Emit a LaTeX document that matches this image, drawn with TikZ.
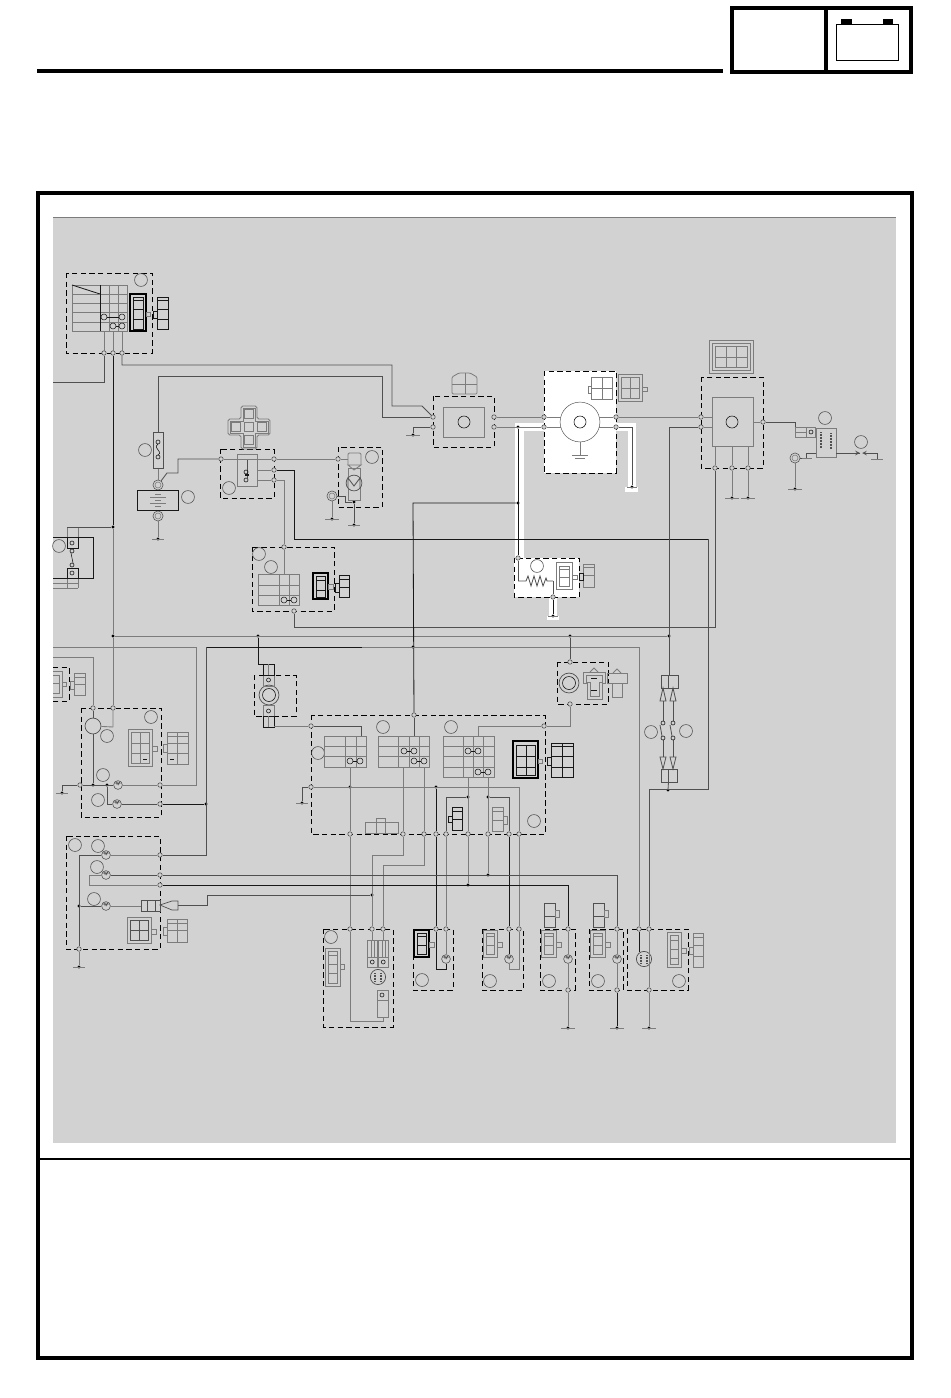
\documentclass[tikz,border=0pt]{standalone}
\usetikzlibrary{
    calc,
    positioning
}
\definecolor{panel}{HTML}{D2D2D2}
\definecolor{wiregray}{HTML}{7C7C7C}
\definecolor{wiremid}{HTML}{505050}
\definecolor{wiredark}{HTML}{181818}
\tikzset{
    wire/.style={draw=wiregray, line width=.75pt},
    wirem/.style={draw=wiremid, line width=.7pt},
    wired/.style={draw=wiredark, line width=.7pt},
    halo/.style={draw=white, line width=7pt, miter limit=10},
    part/.style={draw=wiregray, line width=.7pt},
    partd/.style={draw=wiredark, line width=.7pt},
    dashbox/.style={draw=black, line width=.8pt, dash pattern=on 4.6pt off 2.8pt},
    plugg/.style={draw=wiregray, line width=.8pt},
    plugk/.style={draw=black, line width=.9pt},
    term/.style={circle, draw=wiremid, fill=panel, line width=.5pt, inner sep=0pt, minimum size=3.8pt},
    junct/.style={circle, fill=black, inner sep=0pt, minimum size=2.6pt},
    callout/.style={circle, draw=wiremid, line width=.5pt, inner sep=0pt, minimum size=11pt},
    lug/.style={circle, draw=wiremid, line width=.5pt, inner sep=0pt, minimum size=8.6pt},
    bulb/.style={circle, draw=wiremid, fill=panel, line width=.5pt, inner sep=0pt, minimum size=7.5pt,
        path picture={\draw[wiremid, line width=.5pt] ([shift={(-2.2pt,1.4pt)}]path picture bounding box.center) -- ++(.7pt,1pt) -- ++(.7pt,-2pt) -- ++(.7pt,2pt) -- ++(.7pt,-2pt) -- ++(.7pt,2pt) -- ++(.7pt,-1pt);}},
    coilturn/.style={draw=wiremid, line width=1.3pt, dash pattern=on .7pt off .6pt},
    pump/.style={circle, draw=wiremid, line width=.6pt, inner sep=0pt, minimum size=13.5pt},
    box/.style={rectangle, draw=wiremid, line width=.7pt, inner sep=0pt}
}
% grid of cells: x1 y1 x2 y2, vertical lines, horizontal lines
\newcommand{\cellgrid}[7][part]{
    \draw[#1] (#2,#3) rectangle (#4,#5);
    \foreach \vx in {#6} \draw[#1] (\vx,#3) -- (\vx,#5);
    \foreach \hy in {#7} \draw[#1] (#2,\hy) -- (#4,\hy);
}
\newcommand{\contacts}[3]{
    \draw[partd, line width=.45pt] (#1,#3) circle[radius=3] (#2,#3) circle[radius=3];
    \draw[partd, line width=.45pt] ({#1+3},#3) -- ({#2-3},#3);
}
\begin{document}
\begin{tikzpicture}[x=.3mm, y=-.3mm]
    \useasboundingbox (0,0) rectangle (950,1398);
    % page frame
    \fill[panel] (53,217) rectangle (896,1143);
    \draw[wiregray, line width=.4pt] (53,217) -- (896,217);
    \draw[black, line width=2.6pt] (38,193) rectangle (912,1358);
    \draw[black, line width=2.2pt] (38,1159) -- (912,1159);
    \draw[black, line width=2.6pt] (37,71) -- (723,71);
    \draw[black, line width=2.6pt] (732,8) rectangle (911,72);
    \draw[black, line width=2.6pt] (826,8) -- (826,72);
    \draw[black, line width=.7pt] (836,24) rectangle (898,60);
    \fill[black] (841,19) rectangle (852,24);
    \fill[black] (883,19) rectangle (893,24);

    % white areas
    \fill[white] (544,371) rectangle (616,473);
    \fill[white] (514,558) rectangle (579,597);
    \draw[halo] (544,427) -| (519.5,558);
    \draw[halo] (616,427) -| (632,490);
    \draw[halo] (553,597) -- (553,619);
    \fill[white] (625,487) rectangle (638,492);
    \fill[white] (547,616) rectangle (559,620);

    % dashed groups
    \draw[dashbox] (66,273) rectangle (152,353);
    \draw[dashbox] (220,449) rectangle (274,498);
    \draw[dashbox] (338,447) rectangle (382,507);
    \draw[dashbox] (252,547) rectangle (334,611);
    \draw[dashbox] (433,396) rectangle (494,447);
    \draw[dashbox] (544,371) rectangle (616,473);
    \draw[dashbox] (701,377) rectangle (763,468);
    \draw[dashbox] (514,558) rectangle (579,597);
    \draw[dashbox] (53,667) -- (69,667) -- (69,701) -- (53,701);
    \draw[dashbox] (81,708) rectangle (161,817);
    \draw[dashbox] (66,836) rectangle (160,949);
    \draw[dashbox] (254,675) rectangle (296,716);
    \draw[dashbox] (311,715) rectangle (545,834);
    \draw[dashbox] (557,662) rectangle (608,704);
    \draw[dashbox] (323,929) rectangle (393,1027);
    \draw[dashbox] (413,929) rectangle (453,990);
    \draw[dashbox] (482,929) rectangle (523,990);
    \draw[dashbox] (540,929) rectangle (575,990);
    \draw[dashbox] (589,929) rectangle (623,990);
    \draw[dashbox] (627,929) rectangle (688,990);

    % terminals, dots and grounds
    \foreach \n/\x/\y in {mainL/104/353, mainM/113/353, mainR/122/353,
        rlyA/221/459, rlyB/274/459, rlyC/274/470, rlyD/274/480, startA/338/459,
        cutA/284/547, cutB/294/611, rectA/433/417, rectB/433/427, rectC/494/417, rectD/494/427,
        flashA/544/417, flashB/544/427, flashC/616/417, flashD/616/427,
        cdiA/701/417, cdiB/701/427, cdiC/763/422, cdiD/715/468, cdiE/732/468, cdiF/748/468,
        fanA/518/558, fanB/553/597, hornA/570/662, hornB/570/704,
        meterA/311/726, meterB/414/715, meterC/544/726, meterD/311/787,
        pinA/350/834, pinB/403/834, pinC/424/834, pinD/436/834, pinE/446/834,
        pinF/468/834, pinG/488/834, pinH/509/834, pinI/519/834,
        rearA/93/708, rearB/113/708, rearC/80/785, rearD/160/785, rearE/160/804,
        headA/160/855, headB/160/875, headC/160/885, headD/79/949,
        lowA/350/929, lowB/372/929, lowC/383/929, lowD/436/929, lowE/446/929,
        lowF/509/929, lowG/519/929, lowH/568/929, lowI/617/929, lowJ/639/929, lowK/649/929,
        baseH/568/990, baseI/617/990, baseK/649/990}
        \node[term] (\n) at (\x,\y) {};
    \foreach \n/\x/\y in {dotA/113/527, dotB/113/636, dotC/258/636, dotD/413/647, dotE/570/636,
        dotF/669/636, dotG/518/427, dotH/518/503, dotI/668/790, dotJ/350/787, dotK/436/787,
        dotL/468/797, dotM/488/797, dotN/206/804, dotO/107/785, dotP/93/785, dotQ/79/906,
        dotR/372/895, dotS/468/885, dotT/488/875, dotU/354/502}
        \node[junct] (\n) at (\x,\y) {};
    \foreach \n/\x/\y/\w in {gndA/158/539/6, gndB/332/519/7, gndC/354/525/6, gndD/413/435/7, gndE/732/498/7,
        gndF/748/498/7, gndG/795/489/7, gndH/62/793/6, gndI/302/803/6, gndJ/79/967/6,
        gndK/568/1028/7, gndL/617/1028/7, gndM/649/1028/7, gndN/632/487/5, gndO/553/616/5} {
        \node[junct] (\n) at (\x,\y) {};
        \draw[wire] ($(\n)+(-\w,0)$) -- ($(\n)+(\w,0)$);
    }
    % round labels, left empty
    \foreach \x/\y [count=\i] in {141/280, 145/450, 188/497, 229/488, 259/554, 271/567, 372/457,
        537/566, 825/418, 861/442, 59/546, 318/753, 383/727, 451/727, 534/821, 651/732, 686/731,
        151/717, 107/736, 103/775, 98/800, 75/845, 98/846, 97/867, 94/899, 331/937, 422/980,
        490/981, 549/981, 598/981, 679/981}
        \node[callout] (mark\i) at (\x,\y) {};

    % main switch
    \draw[part] (72,285) rectangle (100,331);
    \draw[partd] (72,285) -- (100,294);
    \foreach \hy in {294, 303, 312, 322} \draw[part] (72,\hy) -- (100,\hy);
    \cellgrid{100}{285}{127}{331}{109,118}{294,303,312,322}
    \draw[partd] (100,285) -- (100,331);
    \contacts{104}{122}{317}
    \contacts{113}{122}{326}
    \foreach \x in {104,113,122} \draw[part] (\x,331) -- (\x,351);
    \draw[plugk] (130,294) rectangle (146,331);
    \cellgrid[partd]{133}{297}{143}{329}{133}{300,309,319}
    \draw[part] (146,312) rectangle (150,316);
    \cellgrid[partd]{157}{297}{168}{329}{157}{300,309,319}
    \draw[partd] (153,311) rectangle (157,318);

    % fuse and battery
    \node[box, draw=wiremid, minimum width=8.5pt, minimum height=31pt] (fuse) at (158,450.5) {};
    \draw[partd, line width=.5pt] (158,442) circle[radius=2] (158,457) circle[radius=2];
    \draw[partd, line width=.5pt] (158,444) .. controls (152,449) and (164,451) .. (158,455);
    \node[lug] (battP) at (158,485) {};
    \node[lug] (battN) at (158,516) {};
    \draw[part, line width=.5pt] (158,485) circle[radius=3] (158,516) circle[radius=3];
    \node[box, draw=wiredark, minimum width=35pt, minimum height=17pt] (batt) at (157.5,500) {};
    \foreach \y/\w in {494/3, 497/8, 500/3, 503/8, 506/3} \draw[part] ({158-\w},\y) -- ({158+\w},\y);

    % cross connector and relay
    \draw[part, rounded corners=1.5pt] (241,406) -- (257,406) -- (257,419) -- (270,419) -- (270,435) -- (257,435) -- (257,449) -- (241,449) -- (241,435) -- (228,435) -- (228,419) -- (241,419) -- cycle;
    \draw[part, line width=.4pt] (243,408) -- (255,408) -- (255,421) -- (268,421) -- (268,433) -- (255,433) -- (255,447) -- (243,447) -- (243,433) -- (230,433) -- (230,421) -- (243,421) -- cycle;
    \foreach \x/\y in {249/414, 236/427, 249/427, 262/427, 249/440} \draw[part] ({\x-4.5},{\y-4.5}) rectangle ({\x+4.5},{\y+4.5});
    \draw[part] (237,454) rectangle (257,486);
    \draw[wirem] (247,459) -- (247,478);
    \draw[partd, line width=.5pt] (246,472) circle[radius=2] (246,480) circle[radius=2];
    \fill[wiredark] (245,474) rectangle (249,476);

    % starter motor
    \draw[part, rounded corners=1pt] (348,465) -- (348,453) -- (361,453) -- (361,465);
    \draw[part] (348,465) -- (354,470) -- (361,465) -- cycle;
    \draw[part] (348,468) rectangle (360,500);
    \node[pump, fill=panel] (motor) at (354,483) {};
    \draw[wirem] (348,488) -- (348,478) -- (354,486) -- (360,478) -- (360,488);
    \node[lug] (startLug) at (332,496) {};
    \draw[part, line width=.5pt] (332,496) circle[radius=3];

    % cut-off relay
    \cellgrid{258}{574}{299}{605}{279,289}{585,595}
    \contacts{284}{294}{600}
    \draw[plugk] (313,573) rectangle (328,599);
    \cellgrid[partd]{316}{576}{325}{597}{316}{580,590}
    \draw[part] (328,584) rectangle (333,589);
    \cellgrid[partd]{339}{575}{349}{597}{339}{579,587}
    \draw[partd] (335,583) rectangle (339,592);

    % rectifier, flasher, CDI
    \node[box, draw=wiregray, minimum width=35pt, minimum height=25.5pt] (rect) at (463.5,422) {};
    \draw[partd, line width=.5pt] (464,422) circle[radius=6];
    \draw[part, rounded corners=1pt] (452,394) -- (452,377) -- (459,373) -- (470,373) -- (477,377) -- (477,394) -- cycle;
    \draw[part] (465,373) -- (465,394) (452,384) -- (477,384);
    \node[circle, draw=wiremid, fill=white, inner sep=0pt, minimum size=34pt] (alt) at (580,422) {};
    \draw[partd, line width=.5pt] (580,422) circle[radius=6];
    \cellgrid{591}{377}{612}{399}{602}{388}
    \draw[part] (588,386) rectangle (591,393);
    \draw[plugg] (618,374) rectangle (642,401);
    \cellgrid{621}{377}{639}{398}{630}{388}
    \draw[part] (642,387) rectangle (647,391);
    \draw[part] (709,340) rectangle (753,373);
    \draw[part] (712,343) rectangle (750,370);
    \cellgrid{715}{346}{747}{367}{726,736}{357}
    \node[box, draw=wiregray, fill=panel, minimum width=35pt, minimum height=42.5pt] (cdi) at (732.5,422) {};
    \draw[partd, line width=.5pt] (732,422) circle[radius=6];

    % ignition coil
    \draw[part] (795,427) rectangle (806,437);
    \draw[part] (795,432) -- (806,432);
    \draw[part] (806,427) rectangle (815,437);
    \draw[partd, line width=.5pt] (811,432) circle[radius=2];
    \draw[part] (816,428) rectangle (836,457);
    \draw[coilturn] (821,432) -- (821,448);
    \draw[coilturn] (831,433) -- (831,449);
    \node[lug] (coilLug) at (795,458) {};
    \draw[part, line width=.5pt] (795,458) circle[radius=3];
    \node[junct, minimum size=0pt] (sparkL) at (860,453) {};
    \node[junct, minimum size=0pt] (sparkR) at (862,453) {};
    \draw[wirem] (836,453) -- (sparkL);
    \draw[wirem, -stealth] (851,453) -- (sparkL);
    \draw[wirem, -stealth] (872,453) -- (sparkR);

    % fan thing
    \draw[plugg] (556,562) rectangle (572,589);
    \cellgrid{559}{566}{569}{586}{559}{569,577}
    \draw[part] (572,575) rectangle (577,579);
    \cellgrid{583}{564}{594}{587}{583}{567,575}
    \draw[partd] (579,573) rectangle (583,580);
    \draw[wirem] (518,581) -- (526,581) -- (528,576) -- (531,586) -- (534,576) -- (537,586) -- (540,576) -- (543,586) -- (546,578) -- (547,581) -- (553,581);

    % left module
    \draw[partd] (53,537) -- (93,537) -- (93,578) -- (53,578);
    \draw[part] (67,527) -- (67,537) (78,527) -- (78,537) (67,578) -- (67,588) (78,578) -- (78,588);
    \draw[part] (53,583) -- (78,583) (53,588) -- (78,588);
    \draw[partd] (67,537) rectangle (78,548);
    \draw[partd] (67,568) rectangle (78,578);
    \draw[partd, line width=.5pt] (72,543) circle[radius=2] (72,573) circle[radius=2] (72,551) circle[radius=2] (72,565) circle[radius=2];
    \draw[partd, line width=.5pt] (71,553) -- (73,563);

    % tail connector on the edge
    \draw[plugg] (53,671) -- (62,671) -- (62,697) -- (53,697);
    \draw[part] (53,675) -- (59,675) -- (59,693) -- (53,693);
    \draw[part] (53,683) -- (59,683);
    \draw[part] (62,682) rectangle (66,686);
    \cellgrid{74}{673}{85}{695}{74}{677,684}
    \draw[part] (70,681) rectangle (74,689);

    % rear block
    \node[circle, draw=wiremid, line width=.6pt, inner sep=0pt, minimum size=13.6pt] (rearBig) at (93,726) {};
    \draw[plugg] (128,729) rectangle (152,766);
    \cellgrid{131}{732}{149}{763}{140}{743,753}
    \draw[partd] (143,759) -- (147,759);
    \draw[part] (152,746) rectangle (157,751);
    \cellgrid{167}{732}{188}{764}{177}{736,743,753}
    \draw[partd] (170,759) -- (174,759);
    \draw[part] (163,744) rectangle (167,752);
    \node[bulb] (lampA) at (118,785) {};
    \node[bulb] (lampB) at (117,804) {};

    % head block
    \node[bulb] (lampC) at (106,855) {};
    \node[bulb] (lampD) at (106,875) {};
    \node[bulb] (lampE) at (106,906) {};
    \cellgrid[wiremid]{141}{900}{160}{911}{147,155}{900}
    \draw[wiremid, line width=.6pt] (160,905) -- (172,901) -- (178,901) -- (178,910) -- (172,910) -- cycle;
    \coordinate (plugEnd) at (178,905);
    \draw[plugg] (127,917) rectangle (151,943);
    \cellgrid[wiremid]{130}{920}{148}{940}{139}{930}
    \draw[part] (151,929) rectangle (156,934);
    \cellgrid{167}{919}{187}{942}{177}{923,930}
    \draw[part] (163,927) rectangle (167,935);

    % ignition coil at the top of the row
    \node[circle, draw=wiremid, line width=.6pt, inner sep=0pt, minimum size=17pt] (plugCap) at (269,695) {};
    \draw[partd, line width=.5pt] (269,695) circle[radius=6.5];
    \foreach \y/\c in {675/680, 705/711} {
        \draw[part] (263,\y) rectangle (274,{\y+11});
        \draw[partd, line width=.5pt] (268.5,\c) circle[radius=2];
    }
    \draw[partd] (263,664) rectangle (274,675);
    \draw[part] (268,664) -- (268,675);
    \draw[partd] (263,716) rectangle (274,727);
    \draw[part] (268,716) -- (268,727);

    % meter panel
    \cellgrid{324}{736}{366}{767}{345,356}{746,756}
    \contacts{350}{360}{761}
    \cellgrid{378}{736}{429}{767}{398,409,419}{746,756}
    \contacts{404}{414}{751}
    \contacts{414}{424}{761}
    \cellgrid{443}{736}{494}{777}{463,473,483}{746,756,767}
    \contacts{468}{478}{751}
    \contacts{478}{488}{772}
    \draw[plugk] (513,741) rectangle (538,778);
    \cellgrid[partd]{516}{745}{535}{775}{526}{756,767}
    \draw[part] (538,759) rectangle (542,763);
    \cellgrid[partd]{551}{743}{573}{777}{562}{746,756,767}
    \draw[partd] (547,757) rectangle (551,765);
    \cellgrid[partd]{452}{807}{462}{830}{452}{811,819}
    \draw[partd] (448,816) rectangle (452,822);
    \cellgrid{492}{807}{503}{831}{492}{811,820}
    \draw[part] (503,816) rectangle (507,824);
    \cellgrid{365}{822}{398}{833}{376,385}{822}
    \draw[part] (376,818) rectangle (385,822);

    % horn
    \node[circle, draw=wiremid, line width=.6pt, inner sep=0pt, minimum size=17pt] (hornCap) at (569,683) {};
    \draw[partd, line width=.5pt] (569,683) circle[radius=6.5];
    \draw[plugg] (583,672) -- (605,672) -- (605,683) -- (602,683) -- (602,699) -- (587,699) -- (587,683) -- (583,683) -- cycle;
    \draw[part, line width=.5pt] (586,675) -- (602,675) -- (602,682) -- (599,682) -- (599,696) -- (590,696) -- (590,682) -- (586,682) -- cycle;
    \draw[partd] (591,678) -- (597,678) (591,690) -- (597,690);
    \draw[part] (590,672) -- (594,668) -- (598,672);
    \draw[part] (607,673) rectangle (627,683);
    \draw[part] (612,683) rectangle (622,697);
    \draw[part] (613,673) -- (617,669) -- (621,673);

    % double switch
    \cellgrid[wiremid]{661}{675}{678}{688}{668.5}{675}
    \cellgrid[wiremid]{661}{769}{677}{782}{668.5}{769}
    \foreach \x in {663,673} {
        \draw[wirem] (\x,688) -- ({\x-3},701) -- ({\x+3},701) -- cycle;
        \draw[wirem] (\x,769) -- ({\x-3},757) -- ({\x+3},757) -- cycle;
        \draw[wirem] (\x,701) -- (\x,721);
        \draw[wirem] (\x,740) -- (\x,757);
        \draw[partd, line width=.5pt] (\x,723) circle[radius=2] (\x,738) circle[radius=2];
        \draw[wirem] ({\x-3},725) -- ({\x-1},736);
    }

    % lower row of units
    \draw[plugg] (325,948) rectangle (340,986);
    \cellgrid{328}{951}{337}{983}{328}{955,964,973}
    \draw[part] (340,964) rectangle (344,969);
    \foreach \x in {367,378} {
        \cellgrid{\x}{940}{\x+10.5}{957}{\x+4,\x+7}{940}
        \draw[part] (\x,957) rectangle ({\x+10.5},967);
        \draw[partd, line width=.5pt] ({\x+5.2},962) circle[radius=2];
    }
    \node[pump, minimum size=13pt] (pumpA) at (378,977) {};
    \draw[coilturn] (375,973) -- (375,981);
    \draw[coilturn] (381,973) -- (381,981);
    \draw[part] (377,990) rectangle (388,1000);
    \draw[partd, line width=.5pt] (382,995) circle[radius=2];
    \draw[part] (377,1000) rectangle (388,1017);
    \draw[plugk] (414,930) rectangle (429,957);
    \cellgrid[partd]{417}{933}{426}{954}{417}{936,945}
    \draw[part] (429,942) rectangle (434,947);
    \draw[plugg] (483,930) rectangle (497,957);
    \cellgrid{486}{933}{494}{954}{486}{936,945}
    \draw[part] (497,942) rectangle (502,947);
    \draw[plugg] (541,930) rectangle (556,957);
    \cellgrid{544}{933}{553}{954}{544}{936,945}
    \draw[part] (556,942) rectangle (561,947);
    \draw[plugg] (590,930) rectangle (605,957);
    \cellgrid{593}{933}{602}{954}{593}{936,945}
    \draw[part] (605,942) rectangle (610,947);
    \cellgrid[wiremid]{544}{903}{555}{927}{544}{916}
    \draw[part] (555,910) rectangle (559,917);
    \cellgrid[wiremid]{593}{903}{604}{927}{593}{916}
    \draw[part] (604,910) rectangle (608,917);
    \draw[plugg] (667,932) rectangle (681,967);
    \cellgrid{670}{935}{678}{964}{670}{940,949,958}
    \draw[part] (681,948) rectangle (686,953);
    \cellgrid{693}{933}{703}{967}{693}{937,945,956}
    \draw[part] (689,947) rectangle (693,954);
    \node[bulb] (lampF) at (446,959) {};
    \node[bulb] (lampG) at (509,959) {};
    \node[bulb] (lampH) at (568,959) {};
    \node[bulb] (lampI) at (617,959) {};
    \node[pump, minimum size=13pt] (pumpB) at (644,959) {};
    \draw[coilturn] (641,955) -- (641,963);
    \draw[coilturn] (647,955) -- (647,963);

    % connectors, upper half
    \draw[wirem] (mainL) |- (53,382);
    \draw[wired] (mainM) -- (dotA);
    \draw[wire] (dotA) -- (dotB);
    \draw[wire] (dotB) -- (dotF);
    \draw[wirem] (dotA) -- (67,527);
    \draw[wirem] (mainR) |- (392,365) -- (392,406) -- (422,406) -- (rectA);
    \draw[wirem] (fuse.north) |- (382,376) -- (382,417) -- (rectA);
    \draw[wire] (fuse.south) -- (battP);
    \draw[wirem] (battP) -- (167,473) -- (178,473) -- (178,459) -- (rlyA);
    \draw[wire] (battN) -- (gndA);
    \draw[wire] (rlyA) -- (rlyB);
    \draw[wire] (rlyB) -- (startA);
    \draw[wire] (startA) -- (348,459);
    \draw[wire] (rlyC) -- (257,470);
    \draw[wire] (rlyD) -- (257,480);
    \draw[wired] (rlyC) -- (294,470) -- (294,539) -- (708,539);
    \draw[wirem] (708,539) -- (708,789) -- (649,789) -- (lowK);
    \draw[wire] (rlyD) -- (284,480) -- (cutA);
    \draw[wire] (cutA) -- (284,574);
    \draw[wirem] (cutB) -- (294,627) -- (715,627) -- (cdiD);
    \draw[wire] (startLug) -- (gndB);
    \draw[wirem] (startLug) -- (345,496) -- (345,502) -- (dotU);
    \draw[wirem] (dotU) -- (gndC);
    \draw[wirem] (rectB) -- (413,427) -- (gndD);
    \draw[wire] (rectC) -- (flashA);
    \draw[wire] (rectD) -- (flashB);
    \draw[wire] (flashC) -- (cdiA);
    \draw[wirem] (flashD) -- (632,427) -- (gndN);
    \draw[wire] (alt) -- (580,455);
    \draw[wire] (572,455) -- (588,455) (575,458) -- (585,458);
    \draw[wired] (dotG) -- (fanA);
    \draw[wired] (dotH) -- (413,503) -- (meterB);
    \draw[wirem] (fanA) -- (518,581);
    \draw[wirem] (553,581) -- (fanB);
    \draw[wired] (fanB) -- (gndO);
    \draw[wirem] (cdiB) -- (669,427) -- (669,675);
    \draw[wire] (cdiA) -- (712,417);
    \draw[wire] (cdiB) -- (712,427);
    \draw[wire] (cdi) -- (cdiC);
    \draw[wirem] (cdiC) -- (795,422) -- (795,427);
    \draw[wire] (cdiE) -- (gndE);
    \draw[wire] (cdiF) -- (gndF);
    \draw[wire] (cdiE) -- (732,447);
    \draw[wire] (cdiF) -- (748,447);
    \draw[wire] (cdiD) -- (715,447);
    \draw[wire] (coilLug) -- (gndG);
    \draw[wirem] (coilLug) -- (806,458) -- (806,453) -- (816,453);
    \draw[wire] (802,458) -- (812,458);
    \draw[wirem] (872,453) -- (877,453) -- (877,459);
    \draw[wire] (871,459) -- (883,459);

    % connectors, lower half
    \draw[wired] (206,647) -- (362,647);
    \draw[wire] (362,647) -- (639,647) -- (lowJ);
    \draw[wire] (53,647) -- (196,647) -- (196,785) -- (rearD);
    \draw[wire] (53,657) -- (93,657) -- (rearA);
    \draw[wirem] (rearA) -- (rearBig);
    \draw[wirem] (rearBig) -- (dotP);
    \draw[wire] (dotB) -- (rearB);
    \draw[wire] (rearB) -- (113,727) -- (rearBig);
    \draw[wirem] (rearC) -- (lampA);
    \draw[wire] (lampA) -- (rearD);
    \draw[wirem] (rearC) -- (62,785) -- (gndH);
    \draw[wirem] (dotO) |- (lampB);
    \draw[wirem] (lampB) -- (rearE);
    \draw[wired] (rearE) -- (dotN);
    \draw[wired] (dotC) -- (258,664) -- (263,664);
    \draw[wire] (274,726) -- (meterA);
    \draw[wirem] (meterA) -- (361,726) -- (361,736);
    \draw[wirem] (dotE) -- (hornA);
    \draw[wire] (hornB) -- (570,726) -- (meterC);
    \draw[wire] (meterC) -- (478,726) -- (478,736);
    \draw[wirem] (meterB) -- (414,736);
    \draw[wire] (meterD) -- (519,787) -- (pinI);
    \draw[wirem] (meterD) -- (302,787) -- (gndI);
    \draw[wire] (350,767) -- (pinA);
    \draw[wire] (403,767) -- (pinB);
    \draw[wire] (424,767) -- (pinC);
    \draw[wired] (dotK) -- (pinD);
    \draw[wire] (468,777) -- (pinF);
    \draw[wire] (488,777) -- (pinG);
    \draw[wirem] (pinE) -- (446,797) -- (dotL);
    \draw[wirem] (dotM) -- (509,797) -- (pinH);
    \draw[wire] (pinA) -- (lowA);
    \draw[wire] (pinB) -- (403,855) -- (372,855) -- (lowB);
    \draw[wire] (pinC) -- (424,865) -- (383,865) -- (lowC);
    \draw[wired] (pinD) -- (lowD);
    \draw[wire] (pinE) -- (lowE);
    \draw[wire] (pinF) -- (dotS);
    \draw[wire] (pinG) -- (dotT);
    \draw[wired] (pinH) -- (lowF);
    \draw[wire] (pinI) -- (lowG);
    \draw[wire] (lowA) -- (350,1021) -- (383,1021) -- (383,1017);
    \draw[wire] (lowB) -- (372,940);
    \draw[wire] (lowC) -- (383,940);
    \draw[wired] (lowD) -- (436,969) -- (446,969) -- (lampF);
    \draw[wire] (lampF) -- (lowE);
    \draw[wired] (lowF) -- (lampG);
    \draw[wire] (lampG) -- (509,969) -- (519,969) -- (lowG);
    \draw[wire] (lowH) -- (lampH);
    \draw[wire] (lampH) -- (baseH);
    \draw[wire] (baseH) -- (gndK);
    \draw[wire] (lowI) -- (lampI);
    \draw[wire] (lampI) -- (baseI);
    \draw[wired] (baseI) -- (gndL);
    \draw[wired] (lowJ) -- (639,952);
    \draw[wire] (lowK) -- (baseK);
    \draw[wire] (baseK) -- (gndM);
    \draw[wire] (lampC) -- (headA);
    \draw[wirem] (lampC) -- (79,855) -- (headD);
    \draw[wirem] (lampD) -- (headB);
    \draw[wirem] (headB) -| (lowI);
    \draw[wire] (headC) -- (89,885) -- (89,875) -- (lampD);
    \draw[wired] (headC) -| (lowH);
    \draw[wirem] (headA) -- (206,855) -- (206,647);
    \draw[wirem] (dotQ) -- (lampE);
    \draw[wire] (lampE) -- (141,906);
    \draw[wire] (headD) -- (gndJ);
    \draw[wirem] (plugEnd) -- (207,905) -- (207,895) -- (dotR);
    \draw[wirem] (dotI) -- (668.5,782);
    % stubs on the generator
    \draw[wire] (flashA) -- (560.6,417);
    \draw[wire] (flashB) -- (560.6,427);
    \draw[wire] (flashC) -- (599.4,417);
    \draw[wire] (flashD) -- (599.4,427);
\end{tikzpicture}
\end{document}
